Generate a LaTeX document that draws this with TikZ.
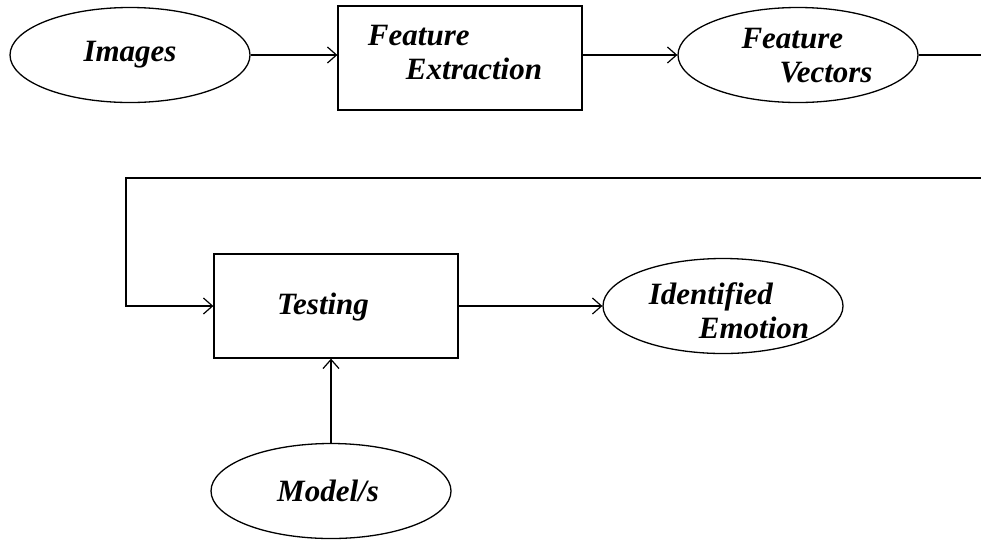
\documentclass[tikz,border=0pt]{standalone}
\usepackage{fontspec}
\setmainfont{Liberation Serif}
\usetikzlibrary{arrows.meta, shapes.geometric}

\tikzset{
  words/.style={font=\fontsize{31}{34}\selectfont\bfseries\itshape, align=left, inner sep=0pt},
  oval/.style={draw, ellipse, line width=1.3pt, minimum width=240pt, minimum height=95pt, words},
  block/.style={draw, rectangle, line width=1.3pt, minimum width=244pt, minimum height=104pt, words},
  flow/.style={line width=1.3pt, -{Straight Barb[length=9pt,width=16pt,line width=1.2pt]}}
}

\begin{document}
\begin{tikzpicture}[x=1pt, y=-1pt]
	\useasboundingbox (0,0) rectangle (981,542);
	% top row
	\node[oval] (img) at (130,55) {Images};
	\node[block, label={[words,xshift=-5,yshift=5]center:{Feature\\\hspace*{38pt}Extraction}}] (fe) at (460,58) {};
	\node[oval, label={[words,xshift=9,yshift=-1]center:{Feature\\\hspace*{38pt}Vectors}}] (fv) at (798,55) {};
	\coordinate (out) at (981,55);
	% bottom row
	\coordinate (back) at (981,178);
	\coordinate (turn) at (126,178);
	\node[block, label={[words,xshift=-13,yshift=-1]center:Testing}] (test) at (336,306) {};
	\node[oval, label={[words,xshift=6,yshift=-5]center:{Identified\\\hspace*{50pt}Emotion}}] (emo) at (723,306) {};
	\node[oval, label={[words,xshift=-3]center:Model/s}] (model) at (331,491) {};
	% connectors
	\draw[flow] (img.east) -- (img.east -| fe.west);
	\draw[flow] (fv.west -| fe.east) -- (fv.west);
	\draw[line width=1.3pt] (fv.east) -- (out);
	\draw[flow] (back) -- (turn) |- (test.west);
	\draw[flow] (test.east) -- (emo.west);
	\draw[flow] (model.north) -- (model.north |- test.south);
\end{tikzpicture}
\end{document}
